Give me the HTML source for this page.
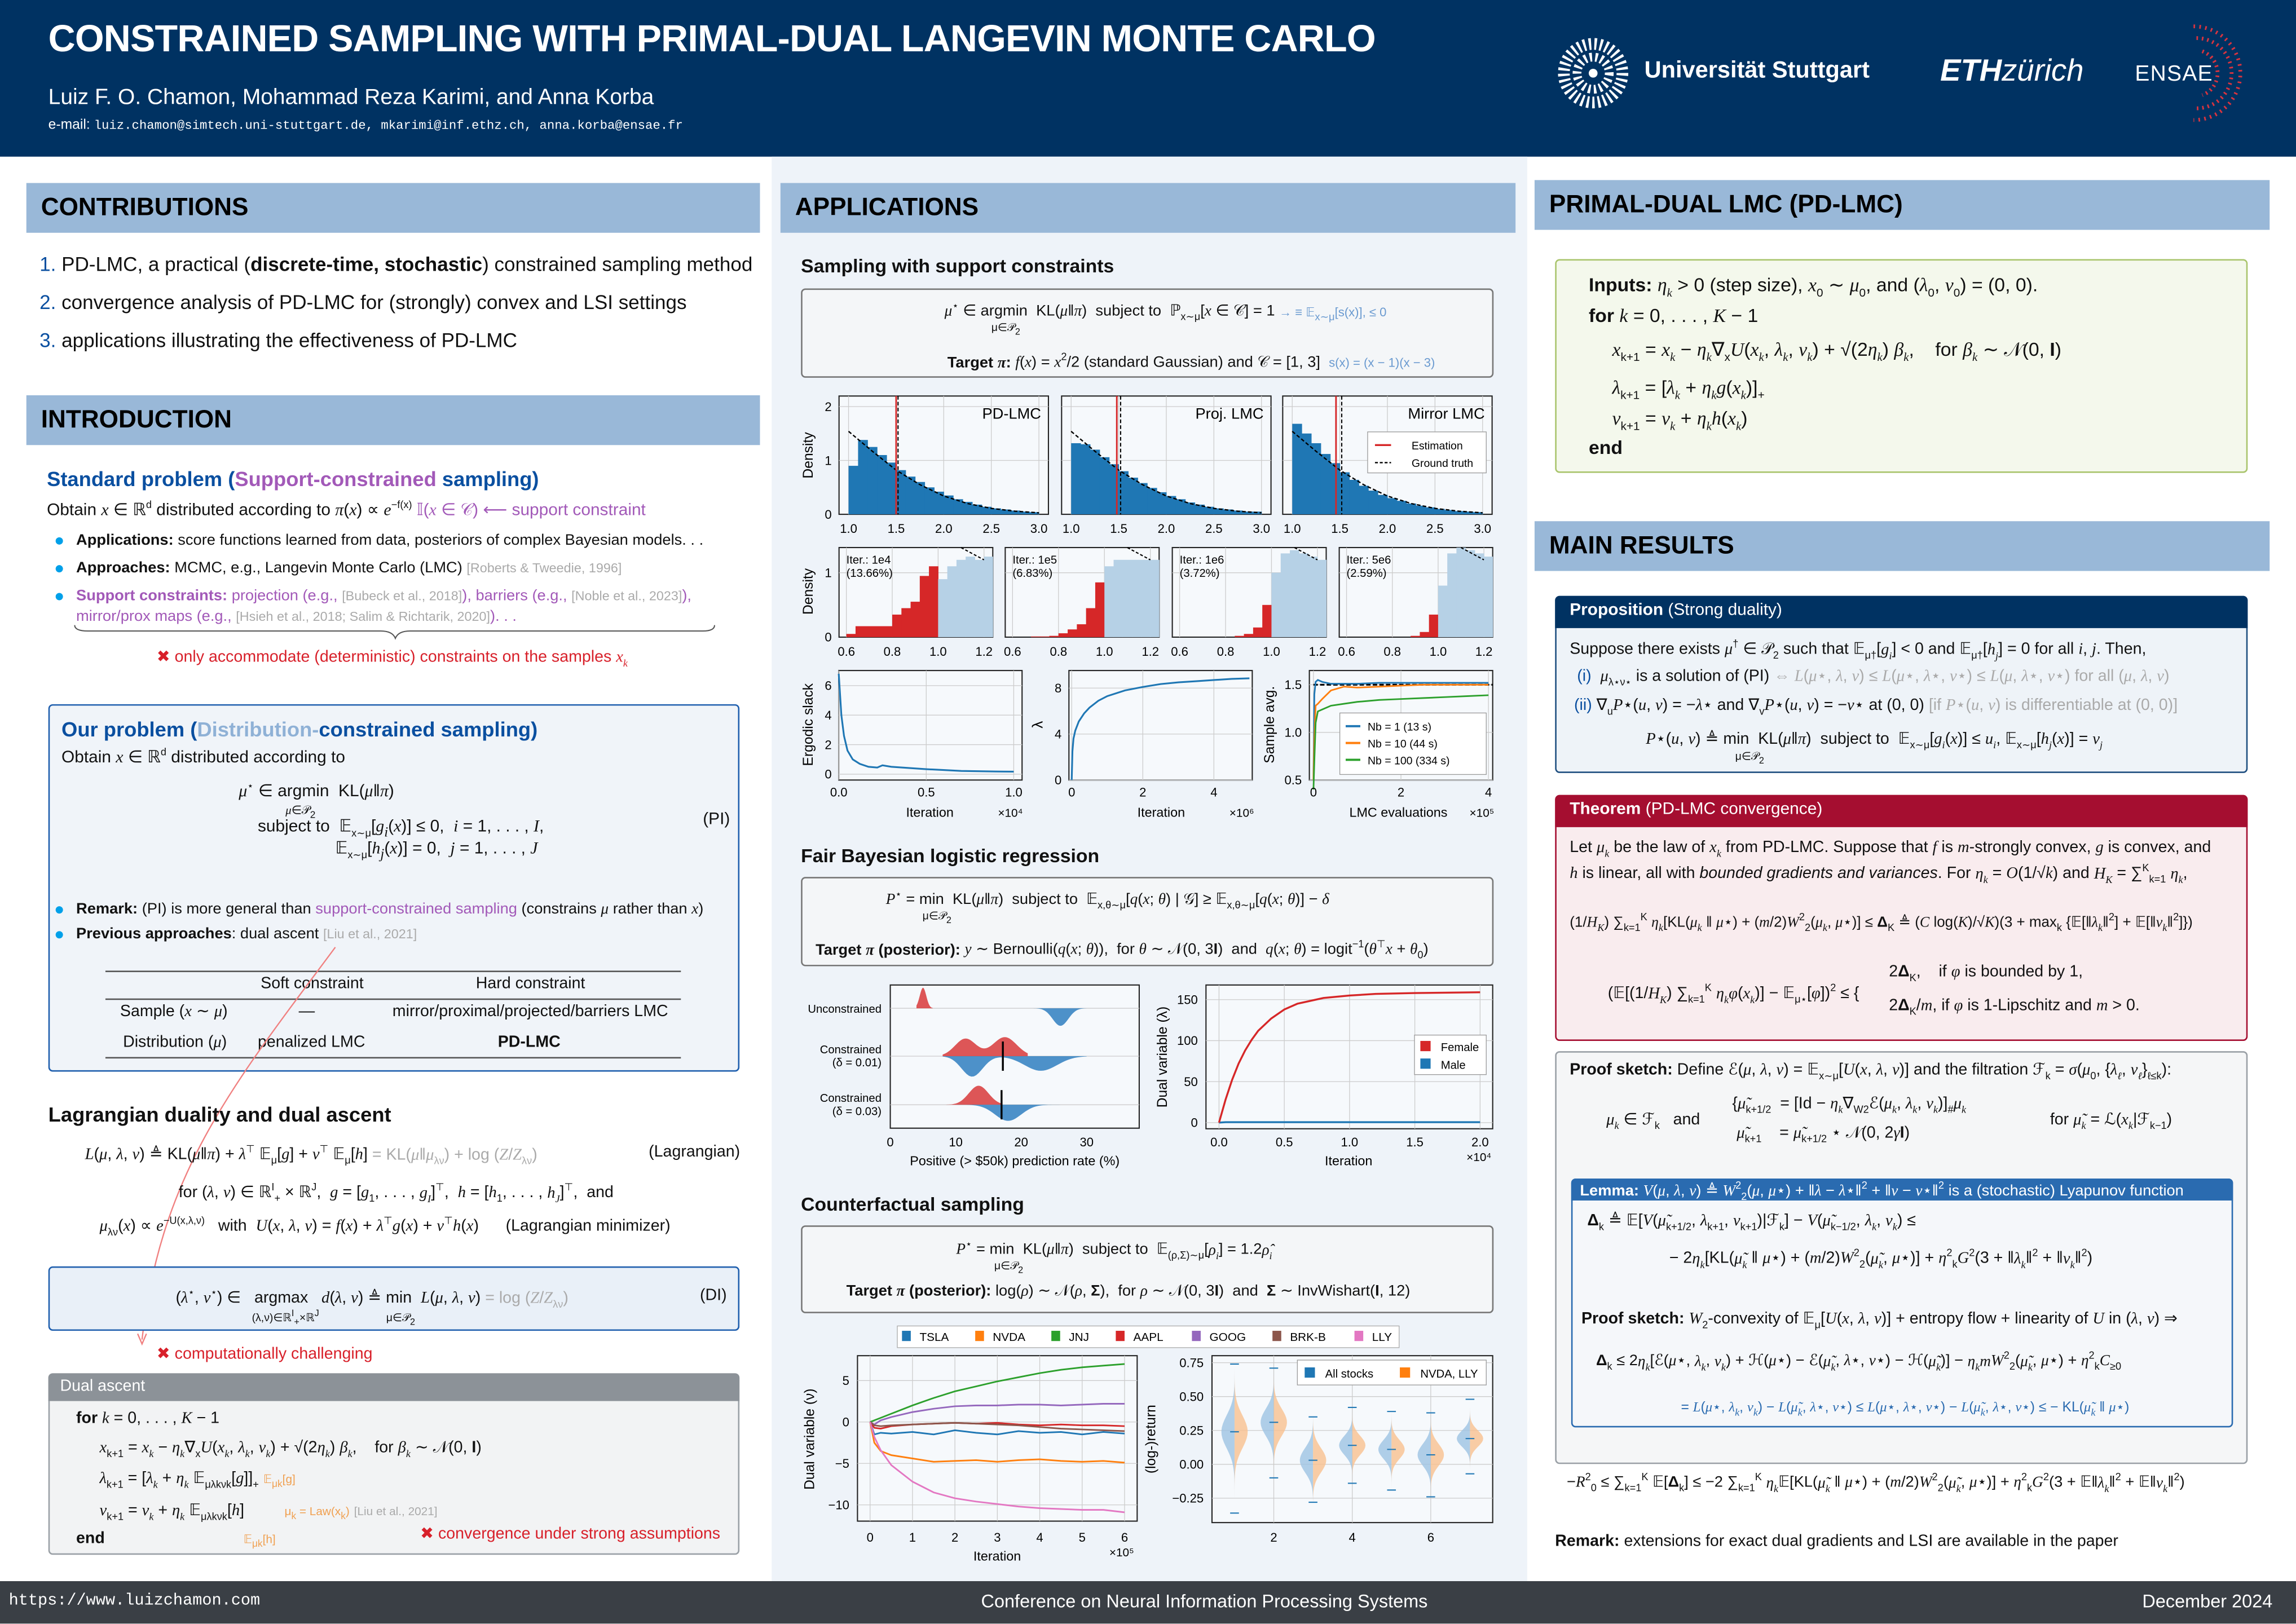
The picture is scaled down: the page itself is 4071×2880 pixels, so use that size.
<!DOCTYPE html>
<html><head><meta charset="utf-8">
<style>
html,body{margin:0;padding:0;width:4071px;height:2880px;overflow:hidden;background:#fff}
#poster{position:absolute;left:0;top:0;width:1568px;height:1109px;transform:scale(2.5963);transform-origin:0 0;font-family:"Liberation Sans",sans-serif;color:#111;background:#fff}
.t{position:absolute;white-space:nowrap;line-height:1}
.m{font-family:"Liberation Serif",serif;font-style:italic}
.hd{position:absolute;background:#99b8d8;height:34px;font-weight:bold;font-size:17px;color:#000;line-height:34px;padding-left:10px;box-sizing:border-box}
.box{position:absolute;box-sizing:border-box;border-radius:3px}
.sub{font-weight:bold;font-size:14px}
.gray{color:#aaa}
.red{color:#d8202a}
.blue{color:#0a4fa0}
.purple{color:#a259b8}
.bul{position:absolute;width:5px;height:5px;border-radius:50%;background:#00a0e9}
svg text{font-family:"Liberation Sans",sans-serif}
</style></head><body>
<div id="poster">
<!-- header -->
<div class="box" style="left:0;top:0;width:1568px;height:107px;background:#003262;border-radius:0"></div>
<div class="t" style="left:33px;top:15px;font-size:25.6px;font-weight:bold;color:#fff;letter-spacing:-0.3px">CONSTRAINED SAMPLING WITH PRIMAL-DUAL LANGEVIN MONTE CARLO</div>
<div class="t" style="left:33px;top:59px;font-size:15px;color:#fff">Luiz F. O. Chamon, Mohammad Reza Karimi, and Anna Korba</div>
<div class="t" style="left:33px;top:81px;font-size:9.5px;color:#fff">e-mail: <span style="font-family:'Liberation Mono',monospace;font-size:8.6px">luiz.chamon@simtech.uni-stuttgart.de, mkarimi@inf.ethz.ch, anna.korba@ensae.fr</span></div>
<svg style="position:absolute;left:1062px;top:24px" width="52" height="52">
<g fill="#fff">
<circle cx="26" cy="26" r="20" fill="none" stroke="#fff" stroke-width="8" stroke-dasharray="1.6 2.2"/>
<circle cx="26" cy="26" r="11" fill="none" stroke="#fff" stroke-width="6" stroke-dasharray="1.6 2.2"/>
<circle cx="26" cy="26" r="3"/></g></svg>
<div class="t" style="left:1123px;top:41px;font-size:16px;font-weight:bold;color:#fff">Universität Stuttgart</div>
<div class="t" style="left:1325px;top:38px;font-size:21px;color:#fff"><b><i>ETH</i></b><i>zürich</i></div>
<div class="t" style="left:1458px;top:43px;font-size:15px;color:#fff;letter-spacing:0.5px">ENSAE</div>
<svg style="position:absolute;left:1490px;top:12px" width="78" height="76">
<g fill="none" stroke="#d8343f" stroke-width="2.6">
<path d="M8 6 A32 32 0 0 1 8 70" stroke-dasharray="1.1 2.9"/>
<path d="M10 14 A24 24 0 0 1 10 62" stroke-dasharray="1.1 2.6"/>
<path d="M14 23 A16 16 0 0 1 14 53" stroke-dasharray="1.1 2.4"/>
</g></svg>

<!-- middle column bg -->
<div class="box" style="left:527px;top:107px;width:516px;height:973px;background:#eef3f9;border-radius:0"></div>

<!-- footer -->
<div class="box" style="left:0;top:1080px;width:1568px;height:29px;background:#3a3f45;border-radius:0"></div>
<div class="t" style="left:6px;top:1089px;font-size:11px;color:#fff;font-family:'Liberation Mono',monospace">https://www.luizchamon.com</div>
<div class="t" style="left:670px;top:1088px;font-size:12.5px;color:#fff">Conference on Neural Information Processing Systems</div>
<div class="t" style="left:1463px;top:1088px;font-size:12.5px;color:#fff">December 2024</div>

<!-- LEFT COLUMN -->
<div class="hd" style="left:18px;top:125px;width:501px">CONTRIBUTIONS</div>
<div class="t" style="left:27px;top:174px;font-size:13.5px"><span class="blue">1.</span> PD-LMC, a practical (<b>discrete-time, stochastic</b>) constrained sampling method</div>
<div class="t" style="left:27px;top:200px;font-size:13.5px"><span class="blue">2.</span> convergence analysis of PD-LMC for (strongly) convex and LSI settings</div>
<div class="t" style="left:27px;top:226px;font-size:13.5px"><span class="blue">3.</span> applications illustrating the effectiveness of PD-LMC</div>

<div class="hd" style="left:18px;top:270px;width:501px">INTRODUCTION</div>
<div class="t sub blue" style="left:32px;top:320px">Standard problem (<span class="purple">Support-constrained</span> sampling)</div>
<div class="t" style="left:32px;top:342px;font-size:11.5px">Obtain <span class="m">x</span> ∈ ℝ<sup style="font-size:7px">d</sup> distributed according to <span class="m">π</span>(<span class="m">x</span>) ∝ <span class="m">e</span><sup style="font-size:7px">−f(x)</sup> <span class="purple">𝕀(<span class="m">x</span> ∈ 𝒞) ⟵ support constraint</span></div>
<div class="bul" style="left:38px;top:367px"></div>
<div class="t" style="left:52px;top:364px;font-size:10.5px"><b>Applications:</b> score functions learned from data, posteriors of complex Bayesian models. . .</div>
<div class="bul" style="left:38px;top:386px"></div>
<div class="t" style="left:52px;top:383px;font-size:10.5px"><b>Approaches:</b> MCMC, e.g., Langevin Monte Carlo (LMC) <span class="gray" style="font-size:9px">[Roberts &amp; Tweedie, 1996]</span></div>
<div class="bul" style="left:38px;top:405px"></div>
<div class="t purple" style="left:52px;top:402px;font-size:10.5px"><b>Support constraints:</b> projection (e.g., <span class="gray" style="font-size:9px">[Bubeck et al., 2018]</span>), barriers (e.g., <span class="gray" style="font-size:9px">[Noble et al., 2023]</span>),</div>
<div class="t purple" style="left:52px;top:416px;font-size:10.5px">mirror/prox maps (e.g., <span class="gray" style="font-size:9px">[Hsieh et al., 2018; Salim &amp; Richtarik, 2020]</span>). . .</div>
<svg style="position:absolute;left:50px;top:426px" width="440" height="12"><path d="M1 1 Q1 5 10 5 L210 5 Q218 5 220 10 Q222 5 230 5 L430 5 Q438 5 438 1" fill="none" stroke="#555" stroke-width="0.8"/></svg>
<div class="t red" style="left:107px;top:444px;font-size:11px">✖ only accommodate (deterministic) constraints on the samples <span class="m">x<sub style="font-size:7px">k</sub></span></div>

<div class="box" style="left:33px;top:481px;width:472px;height:251px;border:1.2px solid #1f5fae;background:#f0f4f9"></div>
<div class="t sub blue" style="left:42px;top:491px">Our problem (<span style="color:#8fb1d6">Distribution-</span>constrained sampling)</div>
<div class="t" style="left:42px;top:511px;font-size:11.5px">Obtain <span class="m">x</span> ∈ ℝ<sup style="font-size:7px">d</sup> distributed according to</div>
<div class="t" style="left:163px;top:534px;font-size:11.5px"><span class="m">μ</span><sup style="font-size:7px">⋆</sup> ∈ argmin &nbsp;KL(<span class="m">μ</span>‖<span class="m">π</span>)</div>
<div class="t" style="left:195px;top:550px;font-size:8px"><span class="m">μ</span>∈𝒫<sub>2</sub></div>
<div class="t" style="left:176px;top:560px;font-size:11.5px">subject to &nbsp;𝔼<sub style="font-size:7px">x∼μ</sub>[<span class="m">g<sub>i</sub></span>(<span class="m">x</span>)] ≤ 0, &nbsp;<span class="m">i</span> = 1, . . . , <span class="m">I</span>,</div>
<div class="t" style="left:229px;top:575px;font-size:11.5px">𝔼<sub style="font-size:7px">x∼μ</sub>[<span class="m">h<sub>j</sub></span>(<span class="m">x</span>)] = 0, &nbsp;<span class="m">j</span> = 1, . . . , <span class="m">J</span></div>
<div class="t" style="left:480px;top:555px;font-size:11.5px">(PI)</div>

<div class="bul" style="left:38px;top:619px"></div>
<div class="t" style="left:52px;top:616px;font-size:10.5px"><b>Remark:</b> (PI) is more general than <span class="purple">support-constrained sampling</span> (constrains <span class="m">μ</span> rather than <span class="m">x</span>)</div>
<div class="bul" style="left:38px;top:636px"></div>
<div class="t" style="left:52px;top:633px;font-size:10.5px"><b>Previous approaches</b>: dual ascent <span class="gray" style="font-size:9px">[Liu et al., 2021]</span></div>

<div class="box" style="left:72px;top:663px;width:393px;height:0;border-top:0.8px solid #555;border-radius:0"></div>
<div class="box" style="left:72px;top:682px;width:393px;height:0;border-top:0.6px solid #555;border-radius:0"></div>
<div class="box" style="left:72px;top:722px;width:393px;height:0;border-top:0.8px solid #555;border-radius:0"></div>
<div class="t" style="left:178px;top:667px;font-size:11px">Soft constraint</div>
<div class="t" style="left:325px;top:667px;font-size:11px">Hard constraint</div>
<div class="t" style="left:82px;top:686px;font-size:11px">Sample (<span class="m">x</span> ∼ <span class="m">μ</span>)</div>
<div class="t" style="left:204px;top:686px;font-size:11px">—</div>
<div class="t" style="left:268px;top:686px;font-size:11px">mirror/proximal/projected/barriers LMC</div>
<div class="t" style="left:84px;top:707px;font-size:11px">Distribution (<span class="m">μ</span>)</div>
<div class="t" style="left:176px;top:707px;font-size:11px">penalized LMC</div>
<div class="t" style="left:340px;top:707px;font-size:11px;font-weight:bold">PD-LMC</div>
<svg style="position:absolute;left:0;top:0;pointer-events:none" width="530" height="960"><path d="M229 647 C160 740 110 800 97 915" fill="none" stroke="#f08080" stroke-width="0.9"/><path d="M94 911 L97 918 L100 911" fill="none" stroke="#f08080" stroke-width="0.9"/></svg>

<div class="t sub" style="left:33px;top:754px">Lagrangian duality and dual ascent</div>
<div class="t" style="left:58px;top:782px;font-size:11px"><span class="m">L</span>(<span class="m">μ</span>, <span class="m">λ</span>, <span class="m">ν</span>) ≜ KL(<span class="m">μ</span>‖<span class="m">π</span>) + <span class="m">λ</span><sup style="font-size:7px">⊤</sup> 𝔼<sub style="font-size:7px">μ</sub>[<span class="m">g</span>] + <span class="m">ν</span><sup style="font-size:7px">⊤</sup> 𝔼<sub style="font-size:7px">μ</sub>[<span class="m">h</span>] <span class="gray">= KL(<span class="m">μ</span>‖<span class="m">μ</span><sub style="font-size:7px">λν</sub>) + log (<span class="m">Z</span>/<span class="m">Z</span><sub style="font-size:7px">λν</sub>)</span></div>
<div class="t" style="left:443px;top:782px;font-size:11px">(Lagrangian)</div>
<div class="t" style="left:122px;top:808px;font-size:11px">for (<span class="m">λ</span>, <span class="m">ν</span>) ∈ ℝ<sup style="font-size:7px">I</sup><sub style="font-size:7px">+</sub> × ℝ<sup style="font-size:7px">J</sup>, &nbsp;<span class="m">g</span> = [<span class="m">g</span><sub style="font-size:7px">1</sub>, . . . , <span class="m">g<sub style="font-size:7px">I</sub></span>]<sup style="font-size:7px">⊤</sup>, &nbsp;<span class="m">h</span> = [<span class="m">h</span><sub style="font-size:7px">1</sub>, . . . , <span class="m">h<sub style="font-size:7px">J</sub></span>]<sup style="font-size:7px">⊤</sup>, &nbsp;and</div>
<div class="t" style="left:68px;top:831px;font-size:11px"><span class="m">μ</span><sub style="font-size:7px">λν</sub>(<span class="m">x</span>) ∝ <span class="m">e</span><sup style="font-size:7px">−U(x,λ,ν)</sup> &nbsp;&nbsp;with &nbsp;<span class="m">U</span>(<span class="m">x</span>, <span class="m">λ</span>, <span class="m">ν</span>) = <span class="m">f</span>(<span class="m">x</span>) + <span class="m">λ</span><sup style="font-size:7px">⊤</sup><span class="m">g</span>(<span class="m">x</span>) + <span class="m">ν</span><sup style="font-size:7px">⊤</sup><span class="m">h</span>(<span class="m">x</span>) &nbsp;&nbsp;&nbsp;&nbsp;&nbsp;(Lagrangian minimizer)</div>

<div class="box" style="left:33px;top:865px;width:472px;height:44px;border:1px solid #1f5fae;background:#e9f0f8"></div>
<div class="t" style="left:120px;top:880px;font-size:11px">(<span class="m">λ</span><sup style="font-size:7px">⋆</sup>, <span class="m">ν</span><sup style="font-size:7px">⋆</sup>) ∈ &nbsp;&nbsp;argmax &nbsp;&nbsp;<span class="m">d</span>(<span class="m">λ</span>, <span class="m">ν</span>) ≜ min &nbsp;<span class="m">L</span>(<span class="m">μ</span>, <span class="m">λ</span>, <span class="m">ν</span>) <span class="gray">= log (<span class="m">Z</span>/<span class="m">Z</span><sub style="font-size:7px">λν</sub>)</span></div>
<div class="t" style="left:172px;top:895px;font-size:7.5px">(λ,ν)∈ℝ<sup>I</sup><sub>+</sub>×ℝ<sup>J</sup> &nbsp;&nbsp;&nbsp;&nbsp;&nbsp;&nbsp;&nbsp;&nbsp;&nbsp;&nbsp;&nbsp;&nbsp;&nbsp;&nbsp;&nbsp;&nbsp;&nbsp;&nbsp;&nbsp;&nbsp;&nbsp;μ∈𝒫<sub>2</sub></div>
<div class="t" style="left:478px;top:880px;font-size:11px">(DI)</div>
<div class="t red" style="left:107px;top:920px;font-size:11px">✖ computationally challenging</div>

<div class="box" style="left:33px;top:938px;width:472px;height:124px;border:1px solid #9aa0a6;background:#f2f3f4"></div>
<div class="box" style="left:33px;top:938px;width:472px;height:19px;background:#8c9298;border-radius:3px 3px 0 0"></div>
<div class="t" style="left:41px;top:942px;font-size:11px;color:#fff">Dual ascent</div>
<div class="t" style="left:52px;top:964px;font-size:11px"><b>for</b> <span class="m">k</span> = 0, . . . , <span class="m">K</span> − 1</div>
<div class="t" style="left:68px;top:984px;font-size:11px"><span class="m">x</span><sub style="font-size:7px">k+1</sub> = <span class="m">x<sub style="font-size:7px">k</sub></span> − <span class="m">η<sub style="font-size:7px">k</sub></span>∇<sub style="font-size:7px">x</sub><span class="m">U</span>(<span class="m">x<sub style="font-size:7px">k</sub></span>, <span class="m">λ<sub style="font-size:7px">k</sub></span>, <span class="m">ν<sub style="font-size:7px">k</sub></span>) + √(2<span class="m">η<sub style="font-size:7px">k</sub></span>) <span class="m">β<sub style="font-size:7px">k</sub></span>, &nbsp;&nbsp;&nbsp;for <span class="m">β<sub style="font-size:7px">k</sub></span> ∼ 𝒩(0, <b>I</b>)</div>
<div class="t" style="left:68px;top:1005px;font-size:11px"><span class="m">λ</span><sub style="font-size:7px">k+1</sub> = [<span class="m">λ<sub style="font-size:7px">k</sub></span> + <span class="m">η<sub style="font-size:7px">k</sub></span> 𝔼<sub style="font-size:7px">μλkνk</sub>[<span class="m">g</span>]]<sub style="font-size:7px">+</sub> <span style="color:#f0a050;font-size:8px">𝔼<sub>μk</sub>[g]</span></div>
<div class="t" style="left:68px;top:1027px;font-size:11px"><span class="m">ν</span><sub style="font-size:7px">k+1</sub> = <span class="m">ν<sub style="font-size:7px">k</sub></span> + <span class="m">η<sub style="font-size:7px">k</sub></span> 𝔼<sub style="font-size:7px">μλkνk</sub>[<span class="m">h</span>] &nbsp;&nbsp;&nbsp;&nbsp;&nbsp;&nbsp;&nbsp;&nbsp;<span style="color:#f0a050;font-size:8px">μ<sub>k</sub> = Law(x<sub>k</sub>)</span> <span class="gray" style="font-size:8px">[Liu et al., 2021]</span></div>
<div class="t" style="left:52px;top:1046px;font-size:11px"><b>end</b> &nbsp;&nbsp;&nbsp;&nbsp;&nbsp;&nbsp;&nbsp;&nbsp;&nbsp;&nbsp;&nbsp;&nbsp;&nbsp;&nbsp;&nbsp;&nbsp;&nbsp;&nbsp;&nbsp;&nbsp;&nbsp;&nbsp;&nbsp;&nbsp;&nbsp;&nbsp;&nbsp;&nbsp;&nbsp;&nbsp;<span style="color:#f0a050;font-size:8px">𝔼<sub>μk</sub>[h]</span></div>
<div class="t red" style="left:287px;top:1043px;font-size:11px">✖ convergence under strong assumptions</div>

<!-- MIDDLE COLUMN -->
<div class="hd" style="left:533px;top:125px;width:502px">APPLICATIONS</div>
<div class="t sub" style="left:547px;top:175px;font-size:13px">Sampling with support constraints</div>
<div class="box" style="left:547px;top:197px;width:473px;height:61px;border:1px solid #777;background:#f4f6f8"></div>
<div class="t" style="left:645px;top:206px;font-size:10.5px"><span class="m">μ</span><sup style="font-size:7px">⋆</sup> ∈ argmin &nbsp;KL(<span class="m">μ</span>‖<span class="m">π</span>) &nbsp;subject to &nbsp;ℙ<sub style="font-size:7px">x∼μ</sub>[<span class="m">x</span> ∈ 𝒞] = 1 <span style="color:#6a9ad0;font-size:8.5px">→ ≡ 𝔼<sub>x∼μ</sub>[s(x)], ≤ 0</span></div>
<div class="t" style="left:677px;top:220px;font-size:7.5px">μ∈𝒫<sub>2</sub></div>
<div class="t" style="left:647px;top:241px;font-size:10.5px"><b>Target <span class="m">π</span>:</b> <span class="m">f</span>(<span class="m">x</span>) = <span class="m">x</span><sup style="font-size:7px">2</sup>/2 (standard Gaussian) and 𝒞 = [1, 3] &nbsp;<span style="color:#6a9ad0;font-size:8.5px">s(x) = (x − 1)(x − 3)</span></div>

<div class="t sub" style="left:547px;top:578px;font-size:13px">Fair Bayesian logistic regression</div>
<div class="box" style="left:547px;top:599px;width:473px;height:61px;border:1px solid #777;background:#f4f6f8"></div>
<div class="t" style="left:605px;top:608px;font-size:10.5px"><span class="m">P</span><sup style="font-size:7px">⋆</sup> = min &nbsp;KL(<span class="m">μ</span>‖<span class="m">π</span>) &nbsp;subject to &nbsp;𝔼<sub style="font-size:7px">x,θ∼μ</sub>[<span class="m">q</span>(<span class="m">x</span>; <span class="m">θ</span>) | 𝒢] ≥ 𝔼<sub style="font-size:7px">x,θ∼μ</sub>[<span class="m">q</span>(<span class="m">x</span>; <span class="m">θ</span>)] − <span class="m">δ</span></div>
<div class="t" style="left:630px;top:622px;font-size:7.5px">μ∈𝒫<sub>2</sub></div>
<div class="t" style="left:557px;top:642px;font-size:10.5px"><b>Target <span class="m">π</span> (posterior):</b> <span class="m">y</span> ∼ Bernoulli(<span class="m">q</span>(<span class="m">x</span>; <span class="m">θ</span>)), &nbsp;for <span class="m">θ</span> ∼ 𝒩(0, 3<b>I</b>) &nbsp;and &nbsp;<span class="m">q</span>(<span class="m">x</span>; <span class="m">θ</span>) = logit<sup style="font-size:7px">−1</sup>(<span class="m">θ</span><sup style="font-size:7px">⊤</sup><span class="m">x</span> + <span class="m">θ</span><sub style="font-size:7px">0</sub>)</div>

<div class="t sub" style="left:547px;top:816px;font-size:13px">Counterfactual sampling</div>
<div class="box" style="left:547px;top:837px;width:473px;height:60px;border:1px solid #777;background:#f4f6f8"></div>
<div class="t" style="left:653px;top:847px;font-size:10.5px"><span class="m">P</span><sup style="font-size:7px">⋆</sup> = min &nbsp;KL(<span class="m">μ</span>‖<span class="m">π</span>) &nbsp;subject to &nbsp;𝔼<sub style="font-size:7px">(ρ,Σ)∼μ</sub>[<span class="m">ρ<sub style="font-size:7px">i</sub></span>] = 1.2<span class="m">ρ̂<sub style="font-size:7px">i</sub></span></div>
<div class="t" style="left:679px;top:861px;font-size:7.5px">μ∈𝒫<sub>2</sub></div>
<div class="t" style="left:578px;top:877px;font-size:10.5px"><b>Target <span class="m">π</span> (posterior):</b> log(<span class="m">ρ</span>) ∼ 𝒩(<span class="m">ρ</span>, <b>Σ</b>), &nbsp;for <span class="m">ρ</span> ∼ 𝒩(0, 3<b>I</b>) &nbsp;and &nbsp;<b>Σ</b> ∼ InvWishart(<b>I</b>, 12)</div>

<!-- RIGHT COLUMN -->
<div class="hd" style="left:1048px;top:123px;width:502px">PRIMAL-DUAL LMC (PD-LMC)</div>
<div class="box" style="left:1062px;top:177px;width:473px;height:146px;border:1px solid #a9c46c;background:#f4f8ec"></div>
<div class="t" style="left:1085px;top:188px;font-size:13px"><b>Inputs:</b> <span class="m">η<sub style="font-size:8px">k</sub></span> &gt; 0 (step size), <span class="m">x</span><sub style="font-size:8px">0</sub> ∼ <span class="m">μ</span><sub style="font-size:8px">0</sub>, and (<span class="m">λ</span><sub style="font-size:8px">0</sub>, <span class="m">ν</span><sub style="font-size:8px">0</sub>) = (0, 0).</div>
<div class="t" style="left:1085px;top:209px;font-size:13px"><b>for</b> <span class="m">k</span> = 0, . . . , <span class="m">K</span> − 1</div>
<div class="t" style="left:1101px;top:232px;font-size:13px"><span class="m">x</span><sub style="font-size:8px">k+1</sub> = <span class="m">x<sub style="font-size:8px">k</sub></span> − <span class="m">η<sub style="font-size:8px">k</sub></span>∇<sub style="font-size:8px">x</sub><span class="m">U</span>(<span class="m">x<sub style="font-size:8px">k</sub></span>, <span class="m">λ<sub style="font-size:8px">k</sub></span>, <span class="m">ν<sub style="font-size:8px">k</sub></span>) + √(2<span class="m">η<sub style="font-size:8px">k</sub></span>) <span class="m">β<sub style="font-size:8px">k</sub></span>, &nbsp;&nbsp;&nbsp;for <span class="m">β<sub style="font-size:8px">k</sub></span> ∼ 𝒩(0, <b>I</b>)</div>
<div class="t" style="left:1101px;top:258px;font-size:13px"><span class="m">λ</span><sub style="font-size:8px">k+1</sub> = [<span class="m">λ<sub style="font-size:8px">k</sub></span> + <span class="m">η<sub style="font-size:8px">k</sub></span><span class="m">g</span>(<span class="m">x<sub style="font-size:8px">k</sub></span>)]<sub style="font-size:8px">+</sub></div>
<div class="t" style="left:1101px;top:279px;font-size:13px"><span class="m">ν</span><sub style="font-size:8px">k+1</sub> = <span class="m">ν<sub style="font-size:8px">k</sub></span> + <span class="m">η<sub style="font-size:8px">k</sub></span><span class="m">h</span>(<span class="m">x<sub style="font-size:8px">k</sub></span>)</div>
<div class="t" style="left:1085px;top:299px;font-size:13px"><b>end</b></div>

<div class="hd" style="left:1048px;top:356px;width:502px">MAIN RESULTS</div>
<div class="box" style="left:1062px;top:407px;width:473px;height:121px;border:1px solid #1f4f80;background:#eef3f8"></div>
<div class="box" style="left:1062px;top:407px;width:473px;height:22px;background:#003262;border-radius:3px 3px 0 0"></div>
<div class="t" style="left:1072px;top:412px;font-size:11.5px;color:#fff"><b>Proposition</b> (Strong duality)</div>
<div class="t" style="left:1072px;top:437px;font-size:11px">Suppose there exists <span class="m">μ</span><sup style="font-size:7px">†</sup> ∈ 𝒫<sub style="font-size:7px">2</sub> such that 𝔼<sub style="font-size:7px">μ†</sub>[<span class="m">g<sub style="font-size:7px">i</sub></span>] &lt; 0 and 𝔼<sub style="font-size:7px">μ†</sub>[<span class="m">h<sub style="font-size:7px">j</sub></span>] = 0 for all <span class="m">i</span>, <span class="m">j</span>. Then,</div>
<div class="t" style="left:1077px;top:457px;font-size:11px"><span class="blue">(i)</span> &nbsp;<span class="m">μ</span><sub style="font-size:7px">λ⋆ν⋆</sub> is a solution of (PI) <span class="gray">⇔ <span class="m">L</span>(<span class="m">μ</span>⋆, <span class="m">λ</span>, <span class="m">ν</span>) ≤ <span class="m">L</span>(<span class="m">μ</span>⋆, <span class="m">λ</span>⋆, <span class="m">ν</span>⋆) ≤ <span class="m">L</span>(<span class="m">μ</span>, <span class="m">λ</span>⋆, <span class="m">ν</span>⋆) for all (<span class="m">μ</span>, <span class="m">λ</span>, <span class="m">ν</span>)</span></div>
<div class="t" style="left:1075px;top:477px;font-size:11px"><span class="blue">(ii)</span> ∇<sub style="font-size:7px">u</sub><span class="m">P</span>⋆(<span class="m">u</span>, <span class="m">v</span>) = −<span class="m">λ</span>⋆ and ∇<sub style="font-size:7px">v</sub><span class="m">P</span>⋆(<span class="m">u</span>, <span class="m">v</span>) = −<span class="m">ν</span>⋆ at (0, 0) <span class="gray">[if <span class="m">P</span>⋆(<span class="m">u</span>, <span class="m">v</span>) is differentiable at (0, 0)]</span></div>
<div class="t" style="left:1124px;top:500px;font-size:11px"><span class="m">P</span>⋆(<span class="m">u</span>, <span class="m">v</span>) ≜ min &nbsp;KL(<span class="m">μ</span>‖<span class="m">π</span>) &nbsp;subject to &nbsp;𝔼<sub style="font-size:7px">x∼μ</sub>[<span class="m">g<sub style="font-size:7px">i</sub></span>(<span class="m">x</span>)] ≤ <span class="m">u<sub style="font-size:7px">i</sub></span>, 𝔼<sub style="font-size:7px">x∼μ</sub>[<span class="m">h<sub style="font-size:7px">j</sub></span>(<span class="m">x</span>)] = <span class="m">v<sub style="font-size:7px">j</sub></span></div>
<div class="t" style="left:1185px;top:513px;font-size:7.5px">μ∈𝒫<sub>2</sub></div>

<div class="box" style="left:1062px;top:543px;width:473px;height:168px;border:1px solid #a50e30;background:#f9ecee"></div>
<div class="box" style="left:1062px;top:543px;width:473px;height:22px;background:#a50e30;border-radius:3px 3px 0 0"></div>
<div class="t" style="left:1072px;top:548px;font-size:11.5px;color:#fff"><b>Theorem</b> (PD-LMC convergence)</div>
<div class="t" style="left:1072px;top:574px;font-size:11px">Let <span class="m">μ<sub style="font-size:7px">k</sub></span> be the law of <span class="m">x<sub style="font-size:7px">k</sub></span> from PD-LMC. Suppose that <span class="m">f</span> is <span class="m">m</span>-strongly convex, <span class="m">g</span> is convex, and</div>
<div class="t" style="left:1072px;top:590px;font-size:11px"><span class="m">h</span> is linear, all with <i>bounded gradients and variances</i>. For <span class="m">η<sub style="font-size:7px">k</sub></span> = <span class="m">O</span>(1/√<span class="m">k</span>) and <span class="m">H<sub style="font-size:7px">K</sub></span> = ∑<sup style="font-size:7px">K</sup><sub style="font-size:7px">k=1</sub> <span class="m">η<sub style="font-size:7px">k</sub></span>,</div>
<div class="t" style="left:1072px;top:624px;font-size:10px"><span>(1/<span class="m">H<sub style="font-size:7px">K</sub></span>) ∑<sub style="font-size:7px">k=1</sub><sup style="font-size:7px">K</sup> <span class="m">η<sub style="font-size:7px">k</sub></span>[KL(<span class="m">μ<sub style="font-size:7px">k</sub></span> ‖ <span class="m">μ</span>⋆) + (<span class="m">m</span>/2)<span class="m">W</span><sup style="font-size:7px">2</sup><sub style="font-size:7px">2</sub>(<span class="m">μ<sub style="font-size:7px">k</sub></span>, <span class="m">μ</span>⋆)] ≤ <b>Δ</b><sub style="font-size:7px">K</sub> ≜ (<span class="m">C</span> log(<span class="m">K</span>)/√<span class="m">K</span>)(3 + max<sub style="font-size:7px">k</sub> {𝔼[‖<span class="m">λ<sub style="font-size:7px">k</sub></span>‖<sup style="font-size:7px">2</sup>] + 𝔼[‖<span class="m">ν<sub style="font-size:7px">k</sub></span>‖<sup style="font-size:7px">2</sup>]})</span></div>
<div class="t" style="left:1098px;top:672px;font-size:11px">(𝔼[(1/<span class="m">H<sub style="font-size:7px">K</sub></span>) ∑<sub style="font-size:7px">k=1</sub><sup style="font-size:7px">K</sup> <span class="m">η<sub style="font-size:7px">k</sub>φ</span>(<span class="m">x<sub style="font-size:7px">k</sub></span>)] − 𝔼<sub style="font-size:7px">μ⋆</sub>[<span class="m">φ</span>])<sup style="font-size:7px">2</sup> ≤ {</div>
<div class="t" style="left:1290px;top:659px;font-size:11px">2<b>Δ</b><sub style="font-size:7px">K</sub>, &nbsp;&nbsp;&nbsp;if <span class="m">φ</span> is bounded by 1,</div>
<div class="t" style="left:1290px;top:682px;font-size:11px">2<b>Δ</b><sub style="font-size:7px">K</sub>/<span class="m">m</span>, if <span class="m">φ</span> is 1-Lipschitz and <span class="m">m</span> &gt; 0.</div>

<div class="box" style="left:1062px;top:718px;width:473px;height:282px;border:1px solid #9aa0a6;background:#f5f6f7"></div>
<div class="t" style="left:1072px;top:726px;font-size:11px"><b>Proof sketch:</b> Define ℰ(<span class="m">μ</span>, <span class="m">λ</span>, <span class="m">ν</span>) = 𝔼<sub style="font-size:7px">x∼μ</sub>[<span class="m">U</span>(<span class="m">x</span>, <span class="m">λ</span>, <span class="m">ν</span>)] and the filtration ℱ<sub style="font-size:7px">k</sub> = <span class="m">σ</span>(<span class="m">μ</span><sub style="font-size:7px">0</sub>, {<span class="m">λ<sub style="font-size:7px">ℓ</sub></span>, <span class="m">ν<sub style="font-size:7px">ℓ</sub></span>}<sub style="font-size:7px">ℓ≤k</sub>):</div>
<div class="t" style="left:1097px;top:760px;font-size:11px"><span class="m">μ<sub style="font-size:7px">k</sub></span> ∈ ℱ<sub style="font-size:7px">k</sub> &nbsp;&nbsp;and</div>
<div class="t" style="left:1183px;top:749px;font-size:11px">{<span class="m">μ̃</span><sub style="font-size:7px">k+1/2</sub> &nbsp;= [Id − <span class="m">η<sub style="font-size:7px">k</sub></span>∇<sub style="font-size:7px">W2</sub>ℰ(<span class="m">μ<sub style="font-size:7px">k</sub></span>, <span class="m">λ<sub style="font-size:7px">k</sub></span>, <span class="m">ν<sub style="font-size:7px">k</sub></span>)]<sub style="font-size:7px">#</sub><span class="m">μ<sub style="font-size:7px">k</sub></span></div>
<div class="t" style="left:1186px;top:769px;font-size:11px"><span class="m">μ̃</span><sub style="font-size:7px">k+1</sub> &nbsp;&nbsp;&nbsp;= <span class="m">μ̃</span><sub style="font-size:7px">k+1/2</sub> ⋆ 𝒩(0, 2<span class="m">γ</span><b>I</b>)</div>
<div class="t" style="left:1400px;top:760px;font-size:11px">for <span class="m">μ̃<sub style="font-size:7px">k</sub></span> = ℒ(<span class="m">x<sub style="font-size:7px">k</sub></span>|ℱ<sub style="font-size:7px">k−1</sub>)</div>
<div class="box" style="left:1073px;top:805px;width:452px;height:170px;border:1px solid #2a6bb0;background:#f5f7fa"></div>
<div class="box" style="left:1073px;top:805px;width:452px;height:15px;background:#2a6bb0;border-radius:3px 3px 0 0"></div>
<div class="t" style="left:1079px;top:807px;font-size:10.5px;color:#fff"><b>Lemma:</b> <span class="m">V</span>(<span class="m">μ</span>, <span class="m">λ</span>, <span class="m">ν</span>) ≜ <span class="m">W</span><sup style="font-size:7px">2</sup><sub style="font-size:7px">2</sub>(<span class="m">μ</span>, <span class="m">μ</span>⋆) + ‖<span class="m">λ</span> − <span class="m">λ</span>⋆‖<sup style="font-size:7px">2</sup> + ‖<span class="m">ν</span> − <span class="m">ν</span>⋆‖<sup style="font-size:7px">2</sup> is a (stochastic) Lyapunov function</div>
<div class="t" style="left:1084px;top:829px;font-size:11px"><b>Δ</b><sub style="font-size:7px">k</sub> ≜ 𝔼[<span class="m">V</span>(<span class="m">μ̃</span><sub style="font-size:7px">k+1/2</sub>, <span class="m">λ</span><sub style="font-size:7px">k+1</sub>, <span class="m">ν</span><sub style="font-size:7px">k+1</sub>)|ℱ<sub style="font-size:7px">k</sub>] − <span class="m">V</span>(<span class="m">μ̃</span><sub style="font-size:7px">k−1/2</sub>, <span class="m">λ<sub style="font-size:7px">k</sub></span>, <span class="m">ν<sub style="font-size:7px">k</sub></span>) ≤</div>
<div class="t" style="left:1140px;top:853px;font-size:11px">− 2<span class="m">η<sub style="font-size:7px">k</sub></span>[KL(<span class="m">μ̃<sub style="font-size:7px">k</sub></span> ‖ <span class="m">μ</span>⋆) + (<span class="m">m</span>/2)<span class="m">W</span><sup style="font-size:7px">2</sup><sub style="font-size:7px">2</sub>(<span class="m">μ̃<sub style="font-size:7px">k</sub></span>, <span class="m">μ</span>⋆)] + <span class="m">η</span><sup style="font-size:7px">2</sup><sub style="font-size:7px">k</sub><span class="m">G</span><sup style="font-size:7px">2</sup>(3 + ‖<span class="m">λ<sub style="font-size:7px">k</sub></span>‖<sup style="font-size:7px">2</sup> + ‖<span class="m">ν<sub style="font-size:7px">k</sub></span>‖<sup style="font-size:7px">2</sup>)</div>
<div class="t" style="left:1080px;top:896px;font-size:11px"><b>Proof sketch:</b> <span class="m">W</span><sub style="font-size:7px">2</sub>-convexity of 𝔼<sub style="font-size:7px">μ</sub>[<span class="m">U</span>(<span class="m">x</span>, <span class="m">λ</span>, <span class="m">ν</span>)] + entropy flow + linearity of <span class="m">U</span> in (<span class="m">λ</span>, <span class="m">ν</span>) ⇒</div>
<div class="t" style="left:1090px;top:923px;font-size:10.5px"><b>Δ</b><sub style="font-size:7px">k</sub> ≤ 2<span class="m">η<sub style="font-size:7px">k</sub></span>[ℰ(<span class="m">μ</span>⋆, <span class="m">λ<sub style="font-size:7px">k</sub></span>, <span class="m">ν<sub style="font-size:7px">k</sub></span>) + ℋ(<span class="m">μ</span>⋆) − ℰ(<span class="m">μ̃<sub style="font-size:7px">k</sub></span>, <span class="m">λ</span>⋆, <span class="m">ν</span>⋆) − ℋ(<span class="m">μ̃<sub style="font-size:7px">k</sub></span>)] − <span class="m">η<sub style="font-size:7px">k</sub>m</span><span class="m">W</span><sup style="font-size:7px">2</sup><sub style="font-size:7px">2</sub>(<span class="m">μ̃<sub style="font-size:7px">k</sub></span>, <span class="m">μ</span>⋆) + <span class="m">η</span><sup style="font-size:7px">2</sup><sub style="font-size:7px">k</sub><span class="m">C</span><sub style="font-size:7px">≥0</sub></div>
<div class="t" style="left:1148px;top:957px;font-size:9.5px;color:#2a6bb0">= <span class="m">L</span>(<span class="m">μ</span>⋆, <span class="m">λ<sub style="font-size:7px">k</sub></span>, <span class="m">ν<sub style="font-size:7px">k</sub></span>) − <span class="m">L</span>(<span class="m">μ̃<sub style="font-size:7px">k</sub></span>, <span class="m">λ</span>⋆, <span class="m">ν</span>⋆) ≤ <span class="m">L</span>(<span class="m">μ</span>⋆, <span class="m">λ</span>⋆, <span class="m">ν</span>⋆) − <span class="m">L</span>(<span class="m">μ̃<sub style="font-size:7px">k</sub></span>, <span class="m">λ</span>⋆, <span class="m">ν</span>⋆) ≤ − KL(<span class="m">μ̃<sub style="font-size:7px">k</sub></span> ‖ <span class="m">μ</span>⋆)</div>
<div class="t" style="left:1070px;top:1006px;font-size:10.5px">−<span class="m">R</span><sup style="font-size:7px">2</sup><sub style="font-size:7px">0</sub> ≤ ∑<sub style="font-size:7px">k=1</sub><sup style="font-size:7px">K</sup> 𝔼[<b>Δ</b><sub style="font-size:7px">k</sub>] ≤ −2 ∑<sub style="font-size:7px">k=1</sub><sup style="font-size:7px">K</sup> <span class="m">η<sub style="font-size:7px">k</sub></span>𝔼[KL(<span class="m">μ̃<sub style="font-size:7px">k</sub></span> ‖ <span class="m">μ</span>⋆) + (<span class="m">m</span>/2)<span class="m">W</span><sup style="font-size:7px">2</sup><sub style="font-size:7px">2</sub>(<span class="m">μ̃<sub style="font-size:7px">k</sub></span>, <span class="m">μ</span>⋆)] + <span class="m">η</span><sup style="font-size:7px">2</sup><sub style="font-size:7px">k</sub><span class="m">G</span><sup style="font-size:7px">2</sup>(3 + 𝔼‖<span class="m">λ<sub style="font-size:7px">k</sub></span>‖<sup style="font-size:7px">2</sup> + 𝔼‖<span class="m">ν<sub style="font-size:7px">k</sub></span>‖<sup style="font-size:7px">2</sup>)</div>
<div class="t" style="left:1062px;top:1048px;font-size:11px"><b>Remark:</b> extensions for exact dual gradients and LSI are available in the paper</div>

<svg id="charts" style="position:absolute;left:0;top:0" width="1568" height="1109"></svg>
</div>

<script>
// ---------- DATA ----------
const histBinStarts = [1.0,1.1,1.2,1.3,1.4,1.5,1.6,1.7,1.8,1.9,2.0,2.1,2.2,2.3,2.4,2.5,2.6,2.7,2.8,2.9];
const histPD     = [0.9,1.38,1.25,1.1,0.96,0.82,0.7,0.6,0.5,0.42,0.35,0.28,0.23,0.18,0.14,0.11,0.09,0.07,0.05,0.04];
const histProj   = [1.32,1.3,1.2,1.06,0.93,0.8,0.68,0.58,0.49,0.41,0.34,0.28,0.22,0.18,0.14,0.11,0.09,0.07,0.05,0.05];
const histMirror = [1.68,1.5,1.32,1.12,0.95,0.78,0.64,0.53,0.44,0.36,0.3,0.25,0.2,0.16,0.13,0.1,0.08,0.06,0.05,0.04];
const truthX = [1.0,1.25,1.5,1.75,2.0,2.25,2.5,2.75,3.0];
const truthY = [1.54,1.17,0.82,0.55,0.34,0.2,0.11,0.058,0.028];
const estimates = [1.5, 1.48, 1.46];
const truthMean = 1.52;
const iterBinStarts = [0.6,0.64,0.68,0.72,0.76,0.8,0.84,0.88,0.92,0.96,1.0,1.04,1.08,1.12,1.16,1.2];
const iterLabels = ["Iter.: 1e4","Iter.: 1e5","Iter.: 1e6","Iter.: 5e6"];
const iterPct = ["(13.66%)","(6.83%)","(3.72%)","(2.59%)"];
const iter1 = [0.05,0.17,0.17,0.17,0.17,0.35,0.45,0.55,0.95,1.1,0.9,1.1,1.2,1.25,1.2,1.25];
const iter2 = [0,0,0.01,0.01,0.02,0.06,0.12,0.2,0.45,0.85,1.1,1.2,1.2,1.2,1.2,1.2];
const iter3 = [0,0,0,0,0,0,0.02,0.05,0.15,0.5,1.0,1.3,1.35,1.3,1.25,1.2];
const iter4 = [0,0,0,0,0,0,0,0.02,0.08,0.35,0.8,1.3,1.4,1.35,1.3,1.25];
const slackIt = [0,150,300,500,800,1200,1700,2200,2500,3000,4000,5000,6000,7000,8000,9000,10000];
const slackVal = [6.8,4.0,2.6,1.6,1.0,0.7,0.5,0.45,0.6,0.5,0.42,0.34,0.28,0.22,0.2,0.18,0.17];
const lamIt = [0,0.02,0.05,0.1,0.2,0.35,0.5,0.75,1.0,1.5,2.0,2.5,3.0,3.5,4.0,4.5,5.0];
const lamVal = [0,2.5,3.6,4.3,5.1,5.8,6.3,6.9,7.3,7.8,8.1,8.35,8.5,8.6,8.7,8.8,8.85];
const avgIt = [0,0.02,0.05,0.1,0.2,0.4,0.7,1.0,1.5,2.0,2.5,3.0,3.5,4.0];
const avgNb1 = [0.5,1.4,1.53,1.55,1.53,1.51,1.51,1.51,1.52,1.52,1.52,1.52,1.52,1.52];
const avgNb10 = [0.5,0.95,1.28,1.3,1.35,1.44,1.48,1.47,1.48,1.49,1.5,1.5,1.5,1.5];
const avgNb100 = [0.4,0.7,1.1,1.22,1.24,1.28,1.3,1.32,1.34,1.35,1.36,1.37,1.38,1.39];
const fairRows = ["Unconstrained","Constrained","Constrained"];
const fairRowSub = ["","(δ = 0.01)","(δ = 0.03)"];
const femaleModes = [[5],[11.5,17.5],[13.5]];
const femaleWidths = [[0.5],[1.6,1.8],[1.5]];
const femaleHeights = [[14],[12,13],[13]];
const maleModes = [[26],[12.5,23],[18]];
const maleWidths = [[1.2],[1.6,2.5],[2.0]];
const maleHeights = [[12],[14,10],[11]];
const fairRange = [[4,6.5,19,32],[8,21,8,30],[8,17,8,27]];
const fairThreshold = [19.2, 17.2, 17.0];
const dualIt = [0,500,1000,1500,2000,2500,3000,4000,5000,6000,8000,10000,12000,15000,20000];
const dualFemale = [0,28,52,72,88,101,112,127,138,145,152,155,157,158,159];
const dualMale = [0,0.5,0.5,0.5,0.5,0.5,0.5,0.5,0.5,0.5,0.5,0.5,0.5,0.5,0.5];
const stocks = ["TSLA","NVDA","JNJ","AAPL","GOOG","BRK-B","LLY"];
const stockColors = ["#1f77b4","#ff7f0e","#2ca02c","#d62728","#9467bd","#8c564b","#e377c2"];
const cfIt = [0,0.1,0.25,0.5,1,1.5,2,2.5,3,3.5,4,4.5,5,5.5,6];
const cfTSLA = [0,-1.5,-1.3,-1.4,-1.2,-1.5,-1.0,-1.3,-1.5,-1.1,-1.3,-1.2,-1.5,-1.2,-1.4];
const cfNVDA = [0,-2.5,-3.5,-4.0,-4.4,-4.8,-4.7,-4.6,-4.8,-4.6,-4.5,-4.7,-4.8,-4.7,-4.9];
const cfJNJ  = [0,0.2,0.5,1.0,2.0,2.9,3.7,4.3,4.9,5.4,5.9,6.3,6.6,6.8,7.0];
const cfAAPL = [0,-0.7,-0.8,-0.5,-0.3,-0.2,-0.1,-0.2,-0.1,-0.3,-0.4,-0.3,-0.4,-0.4,-0.5];
const cfGOOG = [0,-0.3,0.2,0.6,1.2,1.6,1.9,2.0,2.0,2.1,2.1,2.0,2.1,2.2,2.2];
const cfBRK  = [0,-0.4,-0.5,-0.4,-0.3,-0.2,-0.1,-0.2,-0.3,-0.4,-0.6,-0.8,-0.9,-1.0,-1.1];
const cfLLY  = [0,-1.8,-3.4,-5.2,-7.2,-8.5,-9.2,-9.6,-9.9,-10.2,-10.4,-10.5,-10.6,-10.6,-10.9];
const violinPos = [1,2,3,4,5,6,7];
const violinMeanAll = [0.24,0.31,0.03,0.14,0.11,0.07,0.19];
const violinMeanSel = [0.24,0.31,0.03,0.14,0.11,0.07,0.19];
const violinSd = [0.12,0.1,0.09,0.07,0.07,0.08,0.06];
const violinMin = [-0.36,-0.1,-0.28,-0.14,-0.19,-0.24,-0.07];
const violinMax = [0.74,0.71,0.35,0.42,0.39,0.38,0.48];

// ---------- helpers ----------
const svg = document.getElementById('charts');
const NS = 'http://www.w3.org/2000/svg';
function mk(tag, parent){ const e = document.createElementNS(NS, tag); (parent||svg).appendChild(e); return e; }
function sc(d0,d1,r0,r1){ return v => r0 + (v-d0)/(d1-d0)*(r1-r0); }
function txt(x,y,s,size,anchor,parent,color){
  const t = mk('text',parent); t.setAttribute('x',x); t.setAttribute('y',y); t.setAttribute('font-size',size);
  t.setAttribute('text-anchor',anchor||'middle'); if(color) t.setAttribute('fill',color); t.textContent = s;
  
  
  return t;
}
function frame(x0,y0,x1,y1,name){
  const r = mk('rect'); r.setAttribute('x',x0); r.setAttribute('y',y0); r.setAttribute('width',x1-x0); r.setAttribute('height',y1-y0);
  r.setAttribute('fill','#f6f9fc'); r.setAttribute('stroke','#222'); r.setAttribute('stroke-width','0.8');
  
  
}
function grid(x0,x1,y0,y1,xs,ys,X,Y){
  xs.forEach(v=>{const l=mk('line'); l.setAttribute('x1',X(v)); l.setAttribute('x2',X(v)); l.setAttribute('y1',y0); l.setAttribute('y2',y1); l.setAttribute('stroke','#ccc'); l.setAttribute('stroke-width','0.5');
    
    });
  ys.forEach(v=>{const l=mk('line'); l.setAttribute('y1',Y(v)); l.setAttribute('y2',Y(v)); l.setAttribute('x1',x0); l.setAttribute('x2',x1); l.setAttribute('stroke','#ccc'); l.setAttribute('stroke-width','0.5');
    
    });
}
function poly(xs,ys,X,Y,color,w,dash,name){
  const p = mk('polyline'); p.setAttribute('points', xs.map((v,i)=>X(v).toFixed(2)+','+Y(ys[i]).toFixed(2)).join(' '));
  p.setAttribute('fill','none'); p.setAttribute('stroke',color); p.setAttribute('stroke-width',w||1.2); if(dash) p.setAttribute('stroke-dasharray',dash);
  
  
  return p;
}
function bar(x,y,w,h,color,name){
  const r = mk('rect'); r.setAttribute('x',x); r.setAttribute('y',y); r.setAttribute('width',Math.max(w,0)); r.setAttribute('height',Math.max(h,0)); r.setAttribute('fill',color);
  
  
}

// ---------- Row 1 histograms ----------
const panels1 = [[573,716,'PD-LMC',histPD],[725,868,'Proj. LMC',histProj],[876,1019,'Mirror LMC',histMirror]];
const y1 = sc(0,2,351.3,277.7);
panels1.forEach((p,pi)=>{
  const X = sc(1.0,3.0,p[0]+6.5,p[1]-6.5);
  frame(p[0],270.5,p[1],351.3,'support-hist-panel');
  grid(p[0],p[1],270.5,351.3,[1.0,1.5,2.0,2.5,3.0],[1,2],X,y1);
  p[3].forEach((v,i)=>{ bar(X(histBinStarts[i]),y1(v),X(histBinStarts[i]+0.1)-X(histBinStarts[i])+0.2,351.3-y1(v),'#1f77b4','support-hist-bar'); });
  poly(truthX,truthY,X,y1,'#000',0.9,'2.5 1.5','ground-truth-curve');
  const e = mk('line'); e.setAttribute('x1',X(estimates[pi])); e.setAttribute('x2',X(estimates[pi])); e.setAttribute('y1',270.5); e.setAttribute('y2',351.3); e.setAttribute('stroke','#d62728'); e.setAttribute('stroke-width','1.1');
  
  
  const g = mk('line'); g.setAttribute('x1',X(truthMean)); g.setAttribute('x2',X(truthMean)); g.setAttribute('y1',270.5); g.setAttribute('y2',351.3); g.setAttribute('stroke','#000'); g.setAttribute('stroke-width','0.8'); g.setAttribute('stroke-dasharray','2.5 1.5');
  
  
  [1.0,1.5,2.0,2.5,3.0].forEach(v=>txt(X(v),364,v.toFixed(1),8.5));
  txt(p[1]-5,286,p[2],10.5,'end');
});
[0,1,2].forEach(v=>txt(568,y1(v)+3,String(v),8.5,'end'));
const d1 = txt(555,311,'Density',9.5); d1.setAttribute('transform','rotate(-90 555 311)');
const lg = mk('rect'); lg.setAttribute('x',934); lg.setAttribute('y',295); lg.setAttribute('width',81); lg.setAttribute('height',28); lg.setAttribute('fill','#fff'); lg.setAttribute('stroke','#999'); lg.setAttribute('stroke-width','0.5');


poly([0,1],[0,0],v=>939+v*11,v=>304,'#d62728',1.3,null,'legend-estimation-swatch');
poly([0,1],[0,0],v=>939+v*11,v=>316,'#000',0.9,'2 1.3','legend-truth-swatch');
txt(964,307,'Estimation',7.5,'start'); txt(964,319,'Ground truth',7.5,'start');

// ---------- Row 2 iteration histograms ----------
const panels2 = [[573,678,iter1],[686.5,791.6,iter2],[800.6,905.7,iter3],[914.6,1019.4,iter4]];
const y2 = sc(0,1,435.2,391.2);
panels2.forEach((p,pi)=>{
  const X = sc(0.6,1.2,p[0]+5,p[1]-6);
  frame(p[0],374,p[1],435.2,'iteration-hist-panel');
  grid(p[0],p[1],374,435.2,[0.6,0.8,1.0,1.2],[1],X,y2);
  p[2].forEach((v,i)=>{ const x0=X(iterBinStarts[i]); const x1=Math.min(X(iterBinStarts[i]+0.04),p[1]); const h=Math.min(v,1.39);
    bar(x0,y2(h),x1-x0+0.2,435.2-y2(h), iterBinStarts[i]<0.999?'#d62728':'#b6d1e6','iteration-hist-bar'); });
  poly([1.1,1.2],[1.39,1.2],X,y2,'#000',0.8,'2 1.3','ground-truth-curve');
  [0.6,0.8,1.0,1.2].forEach(v=>txt(X(v),448,v.toFixed(1),8.5));
  txt(p[0]+5,385,iterLabels[pi],7.8,'start'); txt(p[0]+5,394,iterPct[pi],7.8,'start');
});
txt(568,y2(0)+3,'0',8.5,'end'); txt(568,y2(1)+3,'1',8.5,'end');
const d2 = txt(555,404,'Density',9.5); d2.setAttribute('transform','rotate(-90 555 404)');

// ---------- Row 3 ----------
(function(){
  const X = sc(0,10000,572.8,692.3), Y = sc(0,6,528.8,468.3);
  frame(572.8,458,698,532.8,'ergodic-slack-panel'); grid(572.8,698,458,532.8,[0,5000,10000],[0,2,4,6],X,Y);
  poly(slackIt,slackVal,X,Y,'#1f77b4',1.2,null,'ergodic-slack-line');
  [0,2,4,6].forEach(v=>txt(568,Y(v)+3,String(v),8.5,'end'));
  [[0,'0.0'],[5000,'0.5'],[10000,'1.0']].forEach(a=>txt(X(a[0]),544,a[1],8.5));
  txt(635,558,'Iteration',9); txt(690,558,'×10⁴',8);
  const a = txt(555,495,'Ergodic slack',9.5); a.setAttribute('transform','rotate(-90 555 495)');
})();
(function(){
  const X = sc(0,4,731.9,829), Y = sc(0,8,532.8,470);
  frame(730,458,855.2,532.8,'lambda-panel'); grid(730,855.2,458,532.8,[0,2,4],[0,4,8],X,Y);
  poly(lamIt,lamVal,X,Y,'#1f77b4',1.2,null,'lambda-line');
  [0,4,8].forEach(v=>txt(725,Y(v)+3,String(v),8.5,'end'));
  [0,2,4].forEach(v=>txt(X(v),544,String(v),8.5));
  txt(793,558,'Iteration',9); txt(848,558,'×10⁶',8);
  const a = txt(712,495,'λ',10); a.setAttribute('transform','rotate(-90 712 495)');
})();
(function(){
  const X = sc(0,4,897,1016.5), Y = sc(0.5,1.5,532.8,467.7);
  frame(894.2,458,1019.4,532.8,'sample-avg-panel'); grid(894.2,1019.4,458,532.8,[0,2,4],[0.5,1.0,1.5],X,Y);
  poly([0,4.1],[1.5,1.5],X,Y,'#000',1.2,'3 1.5','sample-avg-target');
  poly(avgIt,avgNb1,X,Y,'#1f77b4',1.1,null,'sample-avg-nb1');
  poly(avgIt,avgNb10,X,Y,'#ff7f0e',1.1,null,'sample-avg-nb10');
  poly(avgIt,avgNb100,X,Y,'#2ca02c',1.1,null,'sample-avg-nb100');
  [0.5,1.0,1.5].forEach(v=>txt(889,Y(v)+3,v.toFixed(1),8.5,'end'));
  [0,2,4].forEach(v=>txt(X(v),544,String(v),8.5));
  txt(955,558,'LMC evaluations',9); txt(1012,558,'×10⁵',8);
  const a = txt(870,495,'Sample avg.',9.5); a.setAttribute('transform','rotate(-90 870 495)');
  const r = mk('rect'); r.setAttribute('x',915); r.setAttribute('y',487); r.setAttribute('width',100); r.setAttribute('height',42); r.setAttribute('fill','#fff'); r.setAttribute('stroke','#999'); r.setAttribute('stroke-width','0.5');
  
  
  const labs = ['N_b = 1 (13 s)','N_b = 10 (44 s)','N_b = 100 (334 s)'], cols=['#1f77b4','#ff7f0e','#2ca02c'];
  labs.forEach((s,i)=>{ poly([0,1],[0,0],v=>919+v*10,v=>496+i*11.5,cols[i],1.5,null,'legend-swatch'); txt(934,499+i*11.5,s.replace('N_b','Nb'),7.5,'start'); });
})();

// ---------- Fair violins ----------
(function(){
  const X = sc(0,10,608,652.7), rowsY=[688.7,721.4,754.6];
  frame(608,672.8,778,770.6,'fair-ridge-panel');
  rowsY.forEach(y=>{const l=mk('line'); l.setAttribute('x1',608); l.setAttribute('x2',778); l.setAttribute('y1',y); l.setAttribute('y2',y); l.setAttribute('stroke','#ccc'); l.setAttribute('stroke-width','0.5');
    
    });
  function ridge(modes,widths,heights,lo,hi,y0,dir,color,name){
    const pts=[]; for(let k=0;k<=60;k++){ const v=lo+(hi-lo)*k/60; let d=0; modes.forEach((m,j)=>{ d+=heights[j]*Math.exp(-0.5*Math.pow((v-m)/widths[j],2)); }); pts.push(X(v).toFixed(2)+','+(y0-dir*d).toFixed(2)); }
    const p=mk('polygon'); p.setAttribute('points',X(lo)+','+y0+' '+pts.join(' ')+' '+X(hi)+','+y0); p.setAttribute('fill',color); p.setAttribute('fill-opacity','0.85');
    
    
  }
  rowsY.forEach((y,i)=>{
    ridge(femaleModes[i],femaleWidths[i],femaleHeights[i],fairRange[i][0],fairRange[i][1],y,1,'#d83a3a','female-ridge');
    ridge(maleModes[i],maleWidths[i],maleHeights[i],fairRange[i][2],fairRange[i][3],y,-1,'#2f7fbf','male-ridge');
    poly([fairThreshold[i],fairThreshold[i]],[-1,1],X,v=>y+v*(i==0?-1*v*9:10),'#000',1.3,null,'prediction-rate-marker');
    txt(602,y+(fairRowSub[i]?-2:3),fairRows[i],7.8,'end'); if(fairRowSub[i]) txt(602,y+7,fairRowSub[i],7.8,'end');
  });
  [0,10,20,30].forEach(v=>txt(X(v),783,String(v),8.5));
  txt(693,796,'Positive (> $50k) prediction rate (%)',9);
})();
(function(){
  const X = sc(0,20000,832.5,1010.8), Y = sc(0,150,766.8,682.8);
  frame(823.6,672.8,1019.4,771,'dual-variable-panel'); grid(823.6,1019.4,672.8,771,[0,5000,10000,15000,20000],[0,50,100,150],X,Y);
  poly(dualIt,dualMale,X,Y,'#1f77b4',1.3,null,'male-dual-line');
  poly(dualIt,dualFemale,X,Y,'#d62728',1.3,null,'female-dual-line');
  [0,50,100,150].forEach(v=>txt(818,Y(v)+3,String(v),8.5,'end'));
  [[0,'0.0'],[5000,'0.5'],[10000,'1.0'],[15000,'1.5'],[20000,'2.0']].forEach(a=>txt(X(a[0]),783,a[1],8.5));
  txt(921,796,'Iteration',9); txt(1010,793,'×10⁴',8);
  const a = txt(797,722,'Dual variable (λ)',9.5); a.setAttribute('transform','rotate(-90 797 722)');
  const r=mk('rect'); r.setAttribute('x',966); r.setAttribute('y',707); r.setAttribute('width',49); r.setAttribute('height',27); r.setAttribute('fill','#fff'); r.setAttribute('stroke','#999'); r.setAttribute('stroke-width','0.5');
  
  
  bar(970,711,7,7,'#d62728','legend-female-swatch'); txt(984,718,'Female',7.8,'start');
  bar(970,723,7,7,'#1f77b4','legend-male-swatch'); txt(984,730,'Male',7.8,'start');
})();

// ---------- Counterfactual ----------
(function(){
  const r=mk('rect'); r.setAttribute('x',612.8); r.setAttribute('y',905.7); r.setAttribute('width',342.7); r.setAttribute('height',14.8); r.setAttribute('fill','#fff'); r.setAttribute('stroke','#aaa'); r.setAttribute('stroke-width','0.5');
  
  
  const lx=[616,666,718,762,814,869,925];
  stocks.forEach((s,i)=>{ bar(lx[i],909,6,7,stockColors[i],'legend-stock-swatch'); txt(lx[i]+12,916,s,8,'start'); });
  const X = sc(0,6,594.2,768), Y = sc(0,5,971.3,943);
  frame(585.6,926,776.6,1039,'counterfactual-dual-panel'); grid(585.6,776.6,926,1039,[0,1,2,3,4,5,6],[-10,-5,0,5],X,Y);
  const series=[cfTSLA,cfNVDA,cfJNJ,cfAAPL,cfGOOG,cfBRK,cfLLY];
  series.forEach((s,i)=>poly(cfIt,s,X,Y,stockColors[i],1.1,null,'stock-dual-line-'+stocks[i]));
  [5,0,-5,-10].forEach(v=>txt(580,Y(v)+3,v<0?'−'+(-v):String(v),8.5,'end'));
  [0,1,2,3,4,5,6].forEach(v=>txt(X(v),1053,String(v),8.5));
  txt(681,1066,'Iteration',9); txt(766,1063,'×10⁵',8);
  const a = txt(556,983,'Dual variable (ν)',9.5); a.setAttribute('transform','rotate(-90 556 983)');
})();
(function(){
  const X = sc(0,2,816.3,869.9), Y = sc(0,0.75,1000.2,930.8);
  frame(827.7,926,1019.4,1040,'return-violin-panel'); grid(827.7,1019.4,926,1040,[2,4,6],[-0.25,0,0.25,0.5,0.75],X,Y);
  violinPos.forEach((p,i)=>{
    const cx=X(p);
    [[violinMeanAll,'#9ec3e2',-1,'#1f77b4'],[violinMeanSel,'#f9c08f',1,'#ff7f0e']].forEach(c=>{
      const pts=[]; for(let k=0;k<=40;k++){ const v=violinMin[i]+(violinMax[i]-violinMin[i])*k/40; const d=9*Math.exp(-0.5*Math.pow((v-c[0][i])/violinSd[i],2)); pts.push((cx+c[2]*d).toFixed(2)+','+Y(v).toFixed(2)); }
      const pg=mk('polygon'); pg.setAttribute('points',cx+','+Y(violinMin[i])+' '+pts.join(' ')+' '+cx+','+Y(violinMax[i])); pg.setAttribute('fill',c[1]); pg.setAttribute('fill-opacity','0.8');
      
      
    });
    poly([violinMin[i],violinMax[i]],[0,0],v=>cx,Y,'#ff7f0e',0.8,null,'violin-range');
    poly([0,1],[violinMin[i],violinMin[i]],v=>cx-3+v*6,Y,'#1f77b4',0.8,null,'violin-min-cap');
    poly([0,1],[violinMax[i],violinMax[i]],v=>cx-3+v*6,Y,'#1f77b4',0.8,null,'violin-max-cap');
    poly([0,1],[violinMeanAll[i],violinMeanAll[i]],v=>cx-3+v*6,Y,'#1f77b4',0.8,null,'violin-mean');
  });
  [[0.75,'0.75'],[0.5,'0.50'],[0.25,'0.25'],[0,'0.00'],[-0.25,'−0.25']].forEach(a=>txt(822,Y(a[0])+3,a[1],8.5,'end'));
  [2,4,6].forEach(v=>txt(X(v),1053,String(v),8.5));
  const a = txt(789,983,'(log-)return',9.5); a.setAttribute('transform','rotate(-90 789 983)');
  const r=mk('rect'); r.setAttribute('x',886); r.setAttribute('y',929); r.setAttribute('width',129); r.setAttribute('height',17); r.setAttribute('fill','#fff'); r.setAttribute('stroke','#999'); r.setAttribute('stroke-width','0.5');
  
  
  bar(891,934,7,7,'#1f77b4','legend-all-stocks-swatch'); txt(905,941,'All stocks',7.8,'start');
  bar(956,934,7,7,'#ff7f0e','legend-nvda-lly-swatch'); txt(970,941,'NVDA, LLY',7.8,'start');
})();
</script>
</body></html>
